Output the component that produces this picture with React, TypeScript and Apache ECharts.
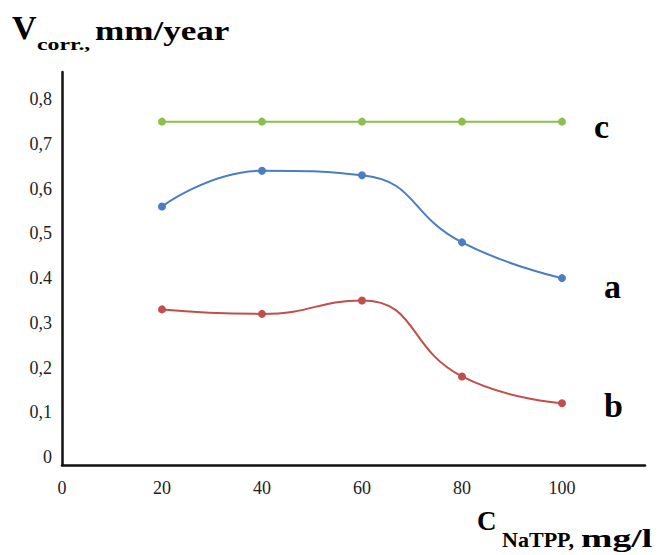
import React, { useEffect, useRef } from "react";
import * as echarts from "echarts";

const xValues = [20, 40, 60, 80, 100];
const seriesA = [0.56, 0.64, 0.63, 0.48, 0.4];
const seriesB = [0.33, 0.32, 0.35, 0.18, 0.12];
const seriesC = [0.75, 0.75, 0.75, 0.75, 0.75];
const yTicks = [0, 0.1, 0.2, 0.3, 0.4, 0.5, 0.6, 0.7, 0.8];
const yTickLabels = ["0", "0,1", "0,2", "0,3", "0.4", "0,5", "0,6", "0,7", "0,8"];
const xTicks = [0, 20, 40, 60, 80, 100];

const SERIF = "Liberation Serif";

export default function App() {
  const ref = useRef<HTMLDivElement>(null);
  useEffect(() => {
    document.body.style.margin = "0";
    const chart = echarts.init(ref.current!, null, { renderer: "svg" });
    const pts = (ys: number[]) => xValues.map((x, i) => [x, ys[i]]);
    const lineSeries = (name: string, data: number[], color: string, smooth: boolean, label: string, off: number[], dist: number) => ({
      name,
      type: "line",
      data: pts(data),
      smooth: smooth ? 0.5 : false,
      symbol: "circle",
      symbolSize: 8,
      lineStyle: { color, width: 2 },
      itemStyle: { color },
      endLabel: {
        show: true,
        formatter: label,
        distance: dist,
        offset: off,
        color: "#000",
        fontFamily: SERIF,
        fontWeight: "bold",
        fontSize: 34,
      },
    });
    chart.setOption({
      animation: false,
      grid: { left: 62, top: 72, right: 15, bottom: 90 },
      xAxis: {
        type: "value",
        min: 0,
        max: 116.6,
        axisLine: { show: true, onZero: false, lineStyle: { color: "#111", width: 2.5 } },
        axisTick: { show: false },
        splitLine: { show: false },
        axisLabel: {
          customValues: xTicks,
          fontFamily: SERIF,
          fontSize: 18,
          color: "#222",
          margin: 14,
        },
      },
      yAxis: {
        type: "value",
        min: -0.018,
        max: 0.861,
        axisLine: { show: true, lineStyle: { color: "#111", width: 2.5 } },
        axisTick: { show: false },
        splitLine: { show: false },
        axisLabel: {
          customValues: yTicks,
          formatter: (v: number) => {
            const i = yTicks.findIndex((t) => Math.abs(t - v) < 1e-6);
            return i >= 0 ? yTickLabels[i] : "";
          },
          fontFamily: SERIF,
          fontSize: 18,
          color: "#222",
          margin: 10,
        },
      },
      series: [
        lineSeries("c", seriesC, "#8DC04A", false, "c", [0, 5], 32),
        lineSeries("a", seriesA, "#4A7DC4", true, "a", [0, 8], 42),
        lineSeries("b", seriesB, "#C24E4C", true, "b", [0, 2], 42),
      ],
      graphic: [
        { type: "text", x: 12, y: 27, style: { text: "V", font: `bold 34px ${SERIF}`, fill: "#000", verticalAlign: "middle" } },
        { type: "text", x: 37, y: 44, scaleX: 1.4, style: { text: "corr.,", font: `bold 17px ${SERIF}`, fill: "#000", verticalAlign: "middle" } },
        { type: "text", x: 95, y: 31, scaleX: 1.3, style: { text: "mm/year", font: `bold 27px ${SERIF}`, fill: "#000", verticalAlign: "middle" } },
        { type: "text", x: 477, y: 521, style: { text: "C", font: `bold 27px ${SERIF}`, fill: "#000", verticalAlign: "middle" } },
        { type: "text", x: 502, y: 540, scaleX: 1.05, style: { text: "NaTPP,", font: `bold 21px ${SERIF}`, fill: "#000", verticalAlign: "middle" } },
        { type: "text", x: 581, y: 538, scaleX: 1.45, style: { text: "mg/l", font: `bold 26px ${SERIF}`, fill: "#000", verticalAlign: "middle" } },
      ],
    });
    return () => chart.dispose();
  }, []);
  return <div ref={ref} style={{ width: 660, height: 555 }} />;
}
